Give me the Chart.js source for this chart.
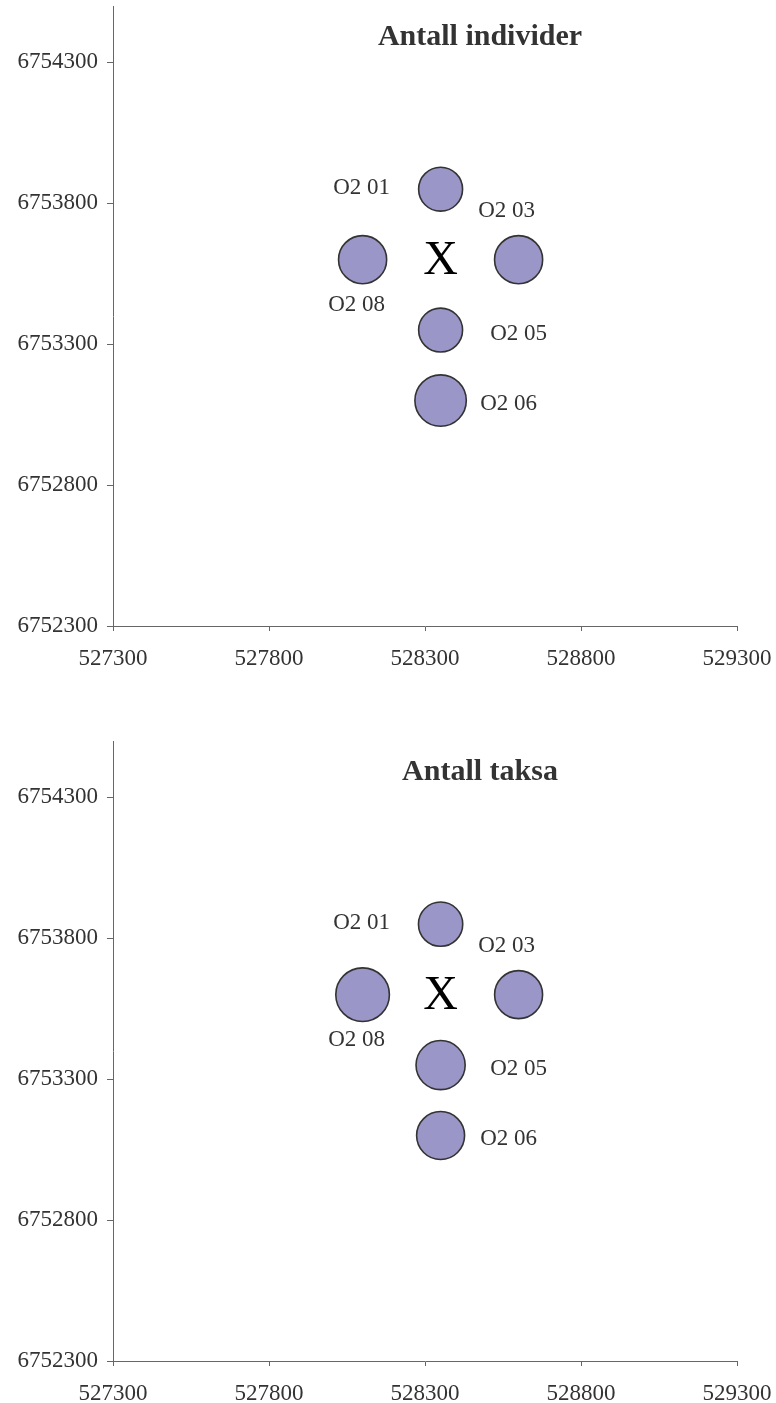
<!DOCTYPE html>
<html>
<head>
<meta charset="utf-8">
<script src="https://cdn.jsdelivr.net/npm/chart.js@4"></script>
<style>
  body { margin: 0; background: #fff; overflow: hidden; }
  .chartbox { position: absolute; left: 0; }
</style>
</head>
<body>
<div class="chartbox" style="top:0"><canvas id="individchart" width="776" height="700"></canvas></div>
<div class="chartbox" style="top:735px"><canvas id="taksachart" width="776" height="668"></canvas></div>
<script>
//data
const sites = ["O2 01", "O2 03", "O2 05", "O2 06", "O2 08"];
const siteX = [528350, 528600, 528350, 528350, 528100];
const siteY = [6753850, 6753600, 6753350, 6753100, 6753600];
const individuals = [74, 88, 74, 100, 88];
const taxa = [18, 21, 22, 21, 26];

//station marker
const stationLabel = "X";
const stationX = [528350];
const stationY = [6753600];

//axes
const xTicks = [527300, 527800, 528300, 528800, 529300];
const yTicks = [6752300, 6752800, 6753300, 6753800, 6754300];
const yMax = 6754500;

//label placement (px from bubble centre)
const labelOffsets = {
  "O2 01": [-79, -1],
  "O2 03": [-12, -49],
  "O2 05": [78, 4],
  "O2 06": [68, 3],
  "O2 08": [-6, 45],
};

const serif = "'Liberation Serif', 'Times New Roman', serif";

const labelPlugin = {
  id: "sitelabels",
  afterDatasetsDraw(chart, args, opts) {
    const ctx = chart.ctx;
    ctx.save();
    ctx.textAlign = "center";
    ctx.textBaseline = "middle";

    ctx.font = "23px " + serif;
    ctx.fillStyle = "#333";
    chart.getDatasetMeta(0).data.forEach((pt, i) => {
      const off = labelOffsets[sites[i]];
      ctx.fillText(sites[i], pt.x + off[0], pt.y + off[1]);
    });

    const xm = chart.getDatasetMeta(1).data[0];
    ctx.font = "48px " + serif;
    ctx.fillStyle = "#000";
    ctx.fillText(stationLabel, xm.x, xm.y + 2);

    ctx.font = "bold 30px " + serif;
    ctx.fillStyle = "#333";
    ctx.textBaseline = "alphabetic";
    ctx.fillText(opts.text, chart.chartArea.left + 367, chart.chartArea.top + 39);
    ctx.restore();
  },
};

function makeChart(canvasId, title, values, maxR) {
  const canvas = document.getElementById(canvasId);
  const canvasH = canvas.height;
  const biggest = Math.max(...values);

  return new Chart(canvas.getContext("2d"), {
    type: "bubble",
    data: {
      datasets: [
        {
          label: title,
          data: sites.map((s, i) => ({
            x: siteX[i],
            y: siteY[i],
            r: maxR * Math.sqrt(values[i] / biggest) - 1,
          })),
          backgroundColor: "#9a96c8",
          borderColor: "#333",
          borderWidth: 1.6,
        },
        {
          label: stationLabel,
          data: [{ x: stationX[0], y: stationY[0], r: 0 }],
          backgroundColor: "rgba(0,0,0,0)",
          borderWidth: 0,
        },
      ],
    },
    options: {
      responsive: false,
      animation: false,
      events: [],
      layout: { autoPadding: false, padding: { top: 6, right: 39, left: 0, bottom: 0 } },
      plugins: {
        legend: { display: false },
        tooltip: { enabled: false },
        sitelabels: { text: title },
      },
      scales: {
        x: {
          type: "linear",
          min: xTicks[0],
          max: xTicks[xTicks.length - 1],
          afterBuildTicks: (s) => {
            s.ticks = xTicks.map((v) => ({ value: v }));
          },
          afterFit: (s) => {
            s.height = canvasH - 626;
            s.paddingLeft = 0;
            s.paddingRight = 0;
          },
          grid: { drawOnChartArea: false, drawTicks: true, tickLength: 5, color: "#666" },
          border: { color: "#666", width: 1 },
          ticks: {
            color: "#333",
            font: { family: serif, size: 23 },
            padding: 14,
            maxRotation: 0,
            autoSkip: false,
            callback: (v) => String(v),
          },
        },
        y: {
          type: "linear",
          min: yTicks[0],
          max: yMax,
          afterBuildTicks: (s) => {
            s.ticks = yTicks.map((v) => ({ value: v }));
          },
          afterFit: (s) => {
            s.width = 113;
            s.paddingTop = 0;
            s.paddingBottom = 0;
          },
          grid: { drawOnChartArea: false, drawTicks: true, tickLength: 6, color: "#666" },
          border: { color: "#666", width: 1 },
          ticks: {
            color: "#333",
            font: { family: serif, size: 23 },
            padding: 9,
            autoSkip: false,
            callback: (v) => String(v),
          },
        },
      },
    },
    plugins: [labelPlugin],
  });
}

var individChart = makeChart("individchart", "Antall individer", individuals, 26.7);
var taksaChart = makeChart("taksachart", "Antall taksa", taxa, 27.8);
</script>
</body>
</html>
